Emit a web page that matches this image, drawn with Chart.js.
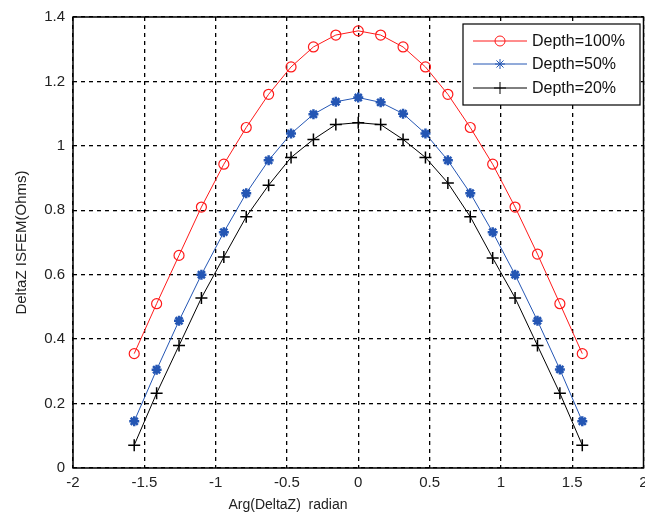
<!DOCTYPE html>
<html>
<head>
<meta charset="utf-8">
<script src="https://cdn.jsdelivr.net/npm/chart.js@4/dist/chart.umd.min.js"></script>
<style>
  html, body { margin: 0; padding: 0; background: #fff; overflow: hidden; }
  #wrap { width: 651px; height: 518px; }
</style>
</head>
<body>
<div id="wrap"><canvas id="chart"></canvas></div>
<script>
// angle samples, step pi/20
const angles = [-1.5708, -1.4137, -1.2566, -1.0996, -0.9425, -0.7854, -0.6283, -0.4712, -0.3142, -0.1571, 0,
                0.1571, 0.3142, 0.4712, 0.6283, 0.7854, 0.9425, 1.0996, 1.2566, 1.4137, 1.5708];

const depth100 = [0.355, 0.51, 0.66, 0.81, 0.943, 1.057, 1.16, 1.245, 1.307, 1.344, 1.357,
                  1.344, 1.307, 1.245, 1.16, 1.057, 0.943, 0.81, 0.664, 0.51, 0.355];
const depth50 = [0.145, 0.305, 0.457, 0.60, 0.732, 0.853, 0.955, 1.038, 1.098, 1.137, 1.15,
                 1.135, 1.10, 1.038, 0.955, 0.853, 0.732, 0.60, 0.457, 0.306, 0.145];
const depth20 = [0.071, 0.232, 0.38, 0.528, 0.655, 0.78, 0.878, 0.964, 1.02, 1.066, 1.072,
                 1.066, 1.02, 0.964, 0.885, 0.78, 0.652, 0.528, 0.38, 0.232, 0.071];

const seriesLabels = ['Depth=100%', 'Depth=50%', 'Depth=20%'];
const xTitle = 'Arg(DeltaZ)  radian';
const yTitle = 'DeltaZ ISFEM(Ohms)';

const FONT = '"Liberation Sans", Arial, sans-serif';

function toPoints(ys) {
    return ys.map((y, i) => ({ x: angles[i], y: y }));
}

// matlab style tick text: 1 not 1.0
function shortTick(v) {
    return String(Number(v.toFixed(2)));
}

// box around plot + x title + legend inside the plot
const matlabDecor = {
    id: 'matlabDecor',
    afterDraw(chart) {
        const ctx = chart.ctx;
        const a = chart.chartArea;
        ctx.save();
        ctx.strokeStyle = '#000';
        ctx.lineWidth = 1.5;
        ctx.strokeRect(a.left, a.top, a.right - a.left, a.bottom - a.top);

        // x axis title (sits left of centre in the original)
        ctx.fillStyle = '#222';
        ctx.font = '14px ' + FONT;
        ctx.textAlign = 'center';
        ctx.textBaseline = 'middle';
        ctx.fillText(xTitle, 288, 505);

        // legend
        const bx = 463, by = 24, bw = 177, bh = 81;
        ctx.fillStyle = '#fff';
        ctx.fillRect(bx, by, bw, bh);
        ctx.strokeStyle = '#000';
        ctx.lineWidth = 1.2;
        ctx.strokeRect(bx, by, bw, bh);
        const rows = [41, 64, 88];
        ctx.font = '16px ' + FONT;
        ctx.textAlign = 'left';
        chart.data.datasets.forEach((ds, i) => {
            const y = rows[i];
            ctx.strokeStyle = ds.borderColor;
            ctx.lineWidth = 1;
            ctx.beginPath();
            ctx.moveTo(473, y);
            ctx.lineTo(527, y);
            ctx.stroke();
            ctx.fillStyle = ds.pointBackgroundColor;
            ctx.strokeStyle = ds.pointBorderColor;
            Chart.helpers.drawPoint(ctx, {
                pointStyle: ds.pointStyle,
                radius: ds.pointRadius,
                borderWidth: ds.pointBorderWidth,
                rotation: 0
            }, 500, y);
            ctx.fillStyle = '#111';
            ctx.fillText(ds.label, 532, y + 1);
        });
        ctx.restore();
    }
};

const ctx = document.getElementById('chart').getContext('2d');
new Chart(ctx, {
    type: 'line',
    data: {
        datasets: [
            {
                label: seriesLabels[0],
                data: toPoints(depth100),
                borderColor: '#ff1a1a',
                borderWidth: 1,
                pointStyle: 'circle',
                pointRadius: 5,
                pointBorderWidth: 1.2,
                pointBackgroundColor: 'rgba(255,255,255,0)',
                pointBorderColor: '#ff1a1a',
                tension: 0
            },
            {
                label: seriesLabels[1],
                data: toPoints(depth50),
                borderColor: '#2456b4',
                borderWidth: 1,
                pointStyle: 'star',
                pointRadius: 5,
                pointBorderWidth: 2.5,
                pointBackgroundColor: '#2456b4',
                pointBorderColor: '#2456b4',
                tension: 0
            },
            {
                label: seriesLabels[2],
                data: toPoints(depth20),
                borderColor: '#000',
                borderWidth: 1,
                pointStyle: 'cross',
                pointRadius: 6,
                pointBorderWidth: 1.5,
                pointBackgroundColor: '#000',
                pointBorderColor: '#000',
                tension: 0
            }
        ]
    },
    options: {
        responsive: true,
        maintainAspectRatio: false,
        animation: false,
        layout: {
            padding: { top: 15, right: 0, left: 0, bottom: 0 }
        },
        plugins: {
            legend: { display: false },
            tooltip: { enabled: false }
        },
        scales: {
            x: {
                type: 'linear',
                min: -2,
                max: 2,
                afterFit: (scale) => {
                    scale.height = 50;
                    scale.paddingLeft = 0;
                    scale.paddingRight = 0;
                },
                ticks: {
                    stepSize: 0.5,
                    color: '#222',
                    padding: 6,
                    maxRotation: 0,
                    font: { family: FONT, size: 15 },
                    callback: shortTick
                },
                grid: {
                    color: '#000',
                    lineWidth: 1.3,
                    drawTicks: false
                },
                border: { display: false, dash: [4, 4] }
            },
            y: {
                min: 0,
                max: 1.4,
                afterFit: (scale) => { scale.width = 73; },
                ticks: {
                    stepSize: 0.2,
                    color: '#222',
                    padding: 8,
                    font: { family: FONT, size: 15 },
                    callback: shortTick
                },
                grid: {
                    color: '#000',
                    lineWidth: 1.3,
                    drawTicks: false
                },
                border: { display: false, dash: [4, 4] },
                title: {
                    display: true,
                    text: yTitle,
                    color: '#222',
                    font: { family: FONT, size: 15 },
                    padding: { top: 13, bottom: 0 }
                }
            }
        }
    },
    plugins: [matlabDecor]
});
</script>
</body>
</html>
